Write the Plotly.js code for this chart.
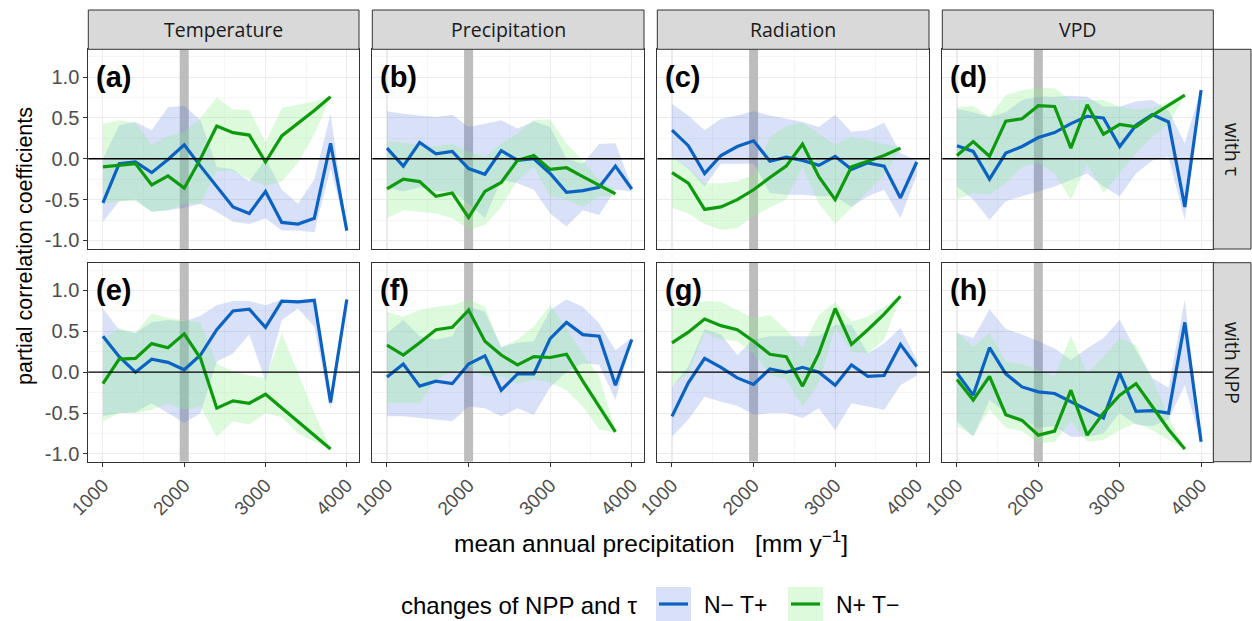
<!DOCTYPE html>
<html>
<head>
<meta charset="utf-8">
<script src="https://cdn.plot.ly/plotly-3.0.1.min.js"></script>
<style>html,body{margin:0;padding:0;background:#fff;}#chart{width:1252px;height:621px;}</style>
</head>
<body>
<div id="chart"></div>
<script>
// ---------- data ----------
const precip = [1000,1200,1400,1600,1800,2000,2200,2400,2600,2800,3000,3200,3400,3600,3800,4000];
const precipGreen = precip.slice(0, 15);
const referencePrecip = 2000;   // grey marker band
const columnLabels = ["Temperature", "Precipitation", "Radiation", "VPD"];
const rowLabels = ["with \u03c4", "with NPP"];
const panelLabels = ["(a)","(b)","(c)","(d)","(e)","(f)","(g)","(h)"];
const seriesNames = ["N\u2212 T+", "N+ T\u2212"];
const yTickVals = [-1, -0.5, 0, 0.5, 1];
const yTickText = ["-1.0", "-0.5", "0.0", "0.5", "1.0"];
const xTickVals = [1000, 2000, 3000, 4000];

// (a) Temperature, with tau
const a_blue   = [-0.54,-0.06,-0.04,-0.17,-0.01,0.17,-0.09,-0.34,-0.59,-0.67,-0.40,-0.78,-0.80,-0.73,0.19,-0.88];
const a_blueHi = [0.00,0.41,0.45,0.35,0.63,0.65,0.47,-0.10,-0.13,-0.28,0.00,-0.38,-0.55,-0.25,0.55,-0.87];
const a_blueLo = [-0.77,-0.52,-0.50,-0.65,-0.63,-0.60,-0.55,-0.65,-0.77,-0.80,-0.73,-0.88,-0.88,-0.90,-0.12,-0.89];
const a_green   = [-0.10,-0.08,-0.06,-0.32,-0.21,-0.36,0.00,0.40,0.32,0.29,-0.04,0.28,0.43,0.59,0.76];
const a_greenHi = [0.43,0.47,0.44,0.17,0.28,0.33,0.50,0.75,0.60,0.60,0.20,0.62,0.66,0.70,0.77];
const a_greenLo = [-0.55,-0.52,-0.52,-0.65,-0.63,-0.55,-0.55,-0.15,-0.15,-0.25,-0.33,-0.28,-0.05,0.30,0.75];
// (b) Precipitation, with tau
const b_blue   = [0.13,-0.09,0.20,0.06,0.09,-0.12,-0.19,0.10,-0.02,0.00,-0.18,-0.41,-0.39,-0.35,-0.09,-0.37];
const b_blueHi = [0.58,0.55,0.53,0.51,0.54,0.39,0.43,0.47,0.37,0.46,0.39,0.00,-0.06,0.18,0.19,-0.34];
const b_blueLo = [-0.35,-0.40,-0.35,-0.40,-0.40,-0.55,-0.73,-0.26,-0.30,-0.38,-0.67,-0.83,-0.63,-0.69,-0.38,-0.40];
const b_green   = [-0.37,-0.25,-0.28,-0.46,-0.42,-0.72,-0.40,-0.29,-0.02,0.04,-0.13,-0.11,-0.22,-0.32,-0.43];
const b_greenHi = [0.21,0.20,0.17,0.15,0.18,0.09,0.02,0.19,0.31,0.47,0.48,0.19,-0.02,-0.26,-0.38];
const b_greenLo = [-0.73,-0.63,-0.65,-0.67,-0.73,-0.87,-0.81,-0.59,-0.26,-0.10,-0.46,-0.50,-0.59,-0.46,-0.46];
// (c) Radiation, with tau
const c_blue   = [0.35,0.16,-0.18,0.04,0.15,0.22,-0.03,0.02,-0.02,-0.08,0.03,-0.13,-0.05,-0.09,-0.48,-0.04];
const c_blueHi = [0.67,0.53,0.35,0.49,0.53,0.58,0.53,0.49,0.45,0.39,0.54,0.33,0.35,0.44,0.07,-0.02];
const c_blueLo = [0.02,-0.12,-0.34,-0.06,-0.06,-0.06,-0.42,-0.44,-0.44,-0.46,-0.46,-0.59,-0.46,-0.38,-0.73,-0.20];
const c_green   = [-0.17,-0.30,-0.62,-0.59,-0.50,-0.38,-0.23,-0.09,0.18,-0.22,-0.50,-0.10,-0.03,0.04,0.13];
const c_greenHi = [0.02,-0.10,-0.30,-0.30,-0.28,-0.20,0.27,0.40,0.44,0.30,0.17,0.27,0.23,0.18,0.14];
const c_greenLo = [-0.60,-0.67,-0.80,-0.87,-0.85,-0.70,-0.60,-0.50,-0.10,-0.55,-0.80,-0.60,-0.40,-0.20,0.12];
// (d) VPD, with tau
const d_blue   = [0.16,0.09,-0.25,0.07,0.15,0.26,0.32,0.43,0.52,0.50,0.15,0.41,0.54,0.45,-0.59,0.84];
const d_blueHi = [0.61,0.57,0.51,0.57,0.72,0.76,0.76,0.77,0.76,0.64,0.64,0.70,0.72,0.59,0.19,0.86];
const d_blueLo = [-0.34,-0.50,-0.75,-0.52,-0.46,-0.40,-0.34,-0.26,-0.18,-0.34,-0.46,-0.18,-0.02,0.02,-0.75,0.82];
const d_green   = [0.04,0.21,0.03,0.46,0.49,0.65,0.64,0.13,0.66,0.30,0.42,0.39,0.53,0.65,0.78];
const d_greenHi = [0.63,0.65,0.51,0.78,0.84,0.87,0.86,0.72,0.72,0.72,0.64,0.60,0.62,0.70,0.79];
const d_greenLo = [-0.50,-0.42,-0.44,-0.30,-0.10,-0.05,-0.18,-0.50,-0.06,-0.42,-0.18,0.07,0.27,0.43,0.77];
// (e) Temperature, with NPP
const e_blue   = [0.44,0.19,0.00,0.16,0.12,0.03,0.21,0.52,0.75,0.77,0.55,0.87,0.86,0.88,-0.37,0.89];
const e_blueHi = [0.78,0.52,0.48,0.61,0.64,0.62,0.69,0.82,0.87,0.87,0.82,0.89,0.88,0.90,-0.34,0.90];
const e_blueLo = [-0.54,-0.50,-0.49,-0.38,-0.50,-0.62,-0.50,0.13,0.23,0.46,-0.11,0.64,0.78,0.56,-0.46,0.88];
const e_green   = [-0.14,0.16,0.17,0.35,0.30,0.47,0.17,-0.44,-0.35,-0.38,-0.27,-0.44,-0.60,-0.77,-0.94];
const e_greenHi = [0.40,0.54,0.48,0.72,0.66,0.64,0.61,0.11,0.01,-0.04,-0.07,0.48,-0.01,-0.50,-0.93];
const e_greenLo = [-0.60,-0.50,-0.50,-0.46,-0.38,-0.46,-0.42,-0.79,-0.60,-0.64,-0.50,-0.55,-0.75,-0.85,-0.95];
// (f) Precipitation, with NPP
const f_blue   = [-0.06,0.10,-0.17,-0.11,-0.14,0.10,0.20,-0.22,-0.02,-0.02,0.41,0.61,0.46,0.44,-0.16,0.40];
const f_blueHi = [0.48,0.64,0.44,0.40,0.44,0.80,0.74,0.31,0.36,0.38,0.76,0.89,0.80,0.60,0.27,0.42];
const f_blueLo = [-0.54,-0.54,-0.56,-0.58,-0.60,-0.42,-0.44,-0.54,-0.44,-0.52,-0.18,0.00,0.11,0.09,-0.34,0.38];
const f_green   = [0.33,0.21,0.36,0.52,0.55,0.76,0.38,0.21,0.09,0.19,0.18,0.22,-0.11,-0.42,-0.73];
const f_greenHi = [0.74,0.68,0.76,0.80,0.82,0.89,0.80,0.31,0.40,0.56,0.82,0.54,0.23,-0.05,-0.72];
const f_greenLo = [-0.38,-0.37,-0.38,-0.09,0.00,0.07,-0.05,-0.05,-0.14,-0.09,-0.13,-0.22,-0.42,-0.70,-0.74];
// (g) Radiation, with NPP
const g_blue   = [-0.54,-0.13,0.17,0.06,-0.07,-0.15,0.04,0.00,0.06,0.00,-0.16,0.09,-0.05,-0.04,0.34,0.07];
const g_blueHi = [-0.18,0.07,0.53,0.46,0.21,0.40,0.44,0.44,0.44,0.44,0.58,0.58,0.23,0.35,0.54,0.15];
const g_blueLo = [-0.79,-0.58,-0.30,-0.36,-0.41,-0.52,-0.50,-0.50,-0.56,-0.44,-0.71,-0.38,-0.42,-0.46,-0.16,-0.04];
const g_green   = [0.36,0.49,0.65,0.57,0.52,0.38,0.22,0.19,-0.17,0.23,0.78,0.34,0.52,0.71,0.93];
const g_greenHi = [0.78,0.82,0.87,0.86,0.76,0.66,0.70,0.52,0.31,0.70,0.86,0.62,0.68,0.80,0.94];
const g_greenLo = [-0.17,-0.01,0.48,0.40,0.38,0.23,-0.03,-0.09,-0.42,-0.13,0.55,0.25,0.23,0.40,0.92];
// (h) VPD, with NPP
const h_blue   = [-0.01,-0.28,0.30,-0.02,-0.18,-0.24,-0.26,-0.36,-0.46,-0.56,-0.01,-0.48,-0.47,-0.50,0.61,-0.85];
const h_blueHi = [0.48,0.42,0.77,0.53,0.46,0.38,0.29,0.15,0.29,0.42,0.64,0.27,-0.07,-0.19,0.89,-0.84];
const h_blueLo = [-0.60,-0.79,-0.34,-0.50,-0.58,-0.68,-0.66,-0.79,-0.79,-0.75,-0.50,-0.64,-0.66,-0.58,-0.16,-0.86];
const h_green   = [-0.09,-0.34,-0.05,-0.52,-0.59,-0.77,-0.72,-0.22,-0.77,-0.50,-0.28,-0.14,-0.42,-0.70,-0.94];
const h_greenHi = [0.49,0.31,0.48,0.13,0.10,0.03,-0.05,0.45,-0.01,0.19,0.42,0.33,-0.09,-0.54,-0.93];
const h_greenLo = [-0.66,-0.77,-0.46,-0.68,-0.72,-0.87,-0.85,-0.60,-0.85,-0.83,-0.71,-0.62,-0.71,-0.83,-0.95];

const panels = [
  [a_blue,a_blueLo,a_blueHi,a_green,a_greenLo,a_greenHi],
  [b_blue,b_blueLo,b_blueHi,b_green,b_greenLo,b_greenHi],
  [c_blue,c_blueLo,c_blueHi,c_green,c_greenLo,c_greenHi],
  [d_blue,d_blueLo,d_blueHi,d_green,d_greenLo,d_greenHi],
  [e_blue,e_blueLo,e_blueHi,e_green,e_greenLo,e_greenHi],
  [f_blue,f_blueLo,f_blueHi,f_green,f_greenLo,f_greenHi],
  [g_blue,g_blueLo,g_blueHi,g_green,g_greenLo,g_greenHi],
  [h_blue,h_blueLo,h_blueHi,h_green,h_greenLo,h_greenHi]
];

// ---------- styling ----------
const W = 1252, H = 621;
const BLUE = "#0a62c2", GREEN = "#0d9a0d";
const BLUE_FILL = "rgba(65,105,225,0.2)", GREEN_FILL = "rgba(144,238,144,0.3)";
const FONT = "Liberation Sans, Arial, sans-serif";
const STRIP_FONT = "Open Sans, Noto Sans, sans-serif";
const colPx = [[88.3,359],[372.3,644],[657.3,929],[942.3,1213.3]];
const rowPx = [[49.3,249],[262.7,461.7]];
const yRanges = [[-1.105, 1.34], [-1.095, 1.34]];
const px = v => v / W, py = v => 1 - v / H;

const traces = [];
const layout = {
  width: W, height: H,
  margin: {l:0, r:0, t:0, b:0},
  paper_bgcolor: "#ffffff", plot_bgcolor: "#ffffff",
  showlegend: false,
  font: {family: FONT, color: "#000", size: 14},
  shapes: [], annotations: []
};

panels.forEach((p, i) => {
  const k = i + 1;
  const xa = "x" + (k === 1 ? "" : k), ya = "y" + (k === 1 ? "" : k);
  const row = Math.floor(i / 4), col = i % 4;
  const [blue, blueLo, blueHi, green, greenLo, greenHi] = p;
  // grey reference band (spans full panel height)
  traces.push({x: [referencePrecip, referencePrecip], y: yRanges[row], xaxis: xa, yaxis: ya, mode: "lines",
    line: {width: 9, color: "#bdbdbd"}, hoverinfo: "skip", cliponaxis: true});
  traces.push({x: precip, y: blueLo, xaxis: xa, yaxis: ya, mode: "lines", line: {width: 0, color: "rgba(0,0,0,0)"}, hoverinfo: "skip"});
  traces.push({x: precip, y: blueHi, xaxis: xa, yaxis: ya, mode: "lines", line: {width: 0, color: "rgba(0,0,0,0)"}, fill: "tonexty", fillcolor: BLUE_FILL, hoverinfo: "skip"});
  traces.push({x: precipGreen, y: greenLo, xaxis: xa, yaxis: ya, mode: "lines", line: {width: 0, color: "rgba(0,0,0,0)"}, hoverinfo: "skip"});
  traces.push({x: precipGreen, y: greenHi, xaxis: xa, yaxis: ya, mode: "lines", line: {width: 0, color: "rgba(0,0,0,0)"}, fill: "tonexty", fillcolor: GREEN_FILL, hoverinfo: "skip"});
  traces.push({x: precip, y: blue, xaxis: xa, yaxis: ya, mode: "lines", name: seriesNames[0], line: {width: 3.2, color: BLUE}});
  traces.push({x: precipGreen, y: green, xaxis: xa, yaxis: ya, mode: "lines", name: seriesNames[1], line: {width: 3.2, color: GREEN}});

  const bottom = row === 1, left = col === 0;
  layout["xaxis" + (k === 1 ? "" : k)] = {
    domain: [px(colPx[col][0]), px(colPx[col][1])],
    anchor: ya, range: [820, 4150],
    tickvals: xTickVals, ticktext: xTickVals.map(String),
    showticklabels: bottom, ticks: bottom ? "outside" : "", ticklen: 4, tickwidth: 1, tickcolor: "#333",
    tickangle: -45, tickfont: {size: 19, color: "#4d4d4d", family: FONT},
    showgrid: true, gridcolor: "#ebebeb", gridwidth: 1.1, zeroline: false,
    minor: {tickvals: [1500, 2500, 3500], showgrid: true, gridcolor: "#f0f0f0", gridwidth: 0.6},
    showline: true, mirror: true, linecolor: "#333333", linewidth: 1
  };
  layout["yaxis" + (k === 1 ? "" : k)] = {
    domain: [py(rowPx[row][1]), py(rowPx[row][0])],
    anchor: xa, range: yRanges[row],
    tickvals: yTickVals, ticktext: yTickText,
    showticklabels: left, ticks: left ? "outside" : "", ticklen: 4, tickwidth: 1, tickcolor: "#333",
    tickfont: {size: 20, color: "#4d4d4d", family: FONT},
    showgrid: true, gridcolor: "#ebebeb", gridwidth: 1.1, zeroline: false,
    minor: {tickvals: [-0.75, -0.25, 0.25, 0.75, 1.25], showgrid: true, gridcolor: "#f0f0f0", gridwidth: 0.6},
    showline: true, mirror: true, linecolor: "#333333", linewidth: 1
  };
  // horizontal zero line
  layout.shapes.push({type: "line", xref: xa + " domain", yref: ya, x0: 0, x1: 1, y0: 0, y1: 0,
    line: {color: "#000000", width: 1.3}, layer: "above"});
  // panel letter
  layout.annotations.push({text: "<b>" + panelLabels[i] + "</b>", xref: xa + " domain", yref: ya,
    x: 0.02, y: 1.0, xanchor: "left", yanchor: "middle", showarrow: false,
    font: {size: 29, family: FONT, color: "#000"}});
});

// strips on top
colPx.forEach((c, j) => {
  layout.shapes.push({type: "rect", xref: "paper", yref: "paper", x0: px(c[0]), x1: px(c[1]), y0: py(49.3), y1: py(10),
    fillcolor: "#d9d9d9", line: {color: "#333333", width: 1}, layer: "above"});
  layout.annotations.push({text: columnLabels[j], xref: "paper", yref: "paper", x: px((c[0] + c[1]) / 2), y: py(30),
    xanchor: "center", yanchor: "middle", showarrow: false, font: {size: 19.5, family: STRIP_FONT, color: "#1a1a1a"}});
});
// strips on right
rowPx.forEach((r, j) => {
  layout.shapes.push({type: "rect", xref: "paper", yref: "paper", x0: px(1213.3), x1: px(1251), y0: py(r[1]), y1: py(r[0]),
    fillcolor: "#d9d9d9", line: {color: "#333333", width: 1}, layer: "above"});
  layout.annotations.push({text: rowLabels[j], xref: "paper", yref: "paper", x: px(1232.5), y: py((r[0] + r[1]) / 2),
    xanchor: "center", yanchor: "middle", textangle: 90, showarrow: false, font: {size: 19.5, family: STRIP_FONT, color: "#1a1a1a"}});
});

// axis titles
layout.annotations.push({text: "partial correlation coefficients", xref: "paper", yref: "paper", x: px(25), y: py(246),
  xanchor: "center", yanchor: "middle", textangle: -90, showarrow: false, font: {size: 21.5, family: FONT, color: "#000"}});
layout.annotations.push({text: "mean annual precipitation   [mm y<sup>\u22121</sup>]", xref: "paper", yref: "paper", x: px(651), y: py(541),
  xanchor: "center", yanchor: "middle", showarrow: false, font: {size: 24.5, family: FONT, color: "#000"}});

// legend (key boxes + labels)
layout.annotations.push({text: "changes of NPP and \u03c4", xref: "paper", yref: "paper", x: px(399), y: py(605),
  xanchor: "left", yanchor: "middle", showarrow: false, font: {size: 24, family: FONT, color: "#000"}});
const keyX = [656, 788], labX = [702, 834];
[[BLUE_FILL, BLUE], [GREEN_FILL, GREEN]].forEach((cc, j) => {
  layout.shapes.push({type: "rect", xref: "paper", yref: "paper", x0: px(keyX[j]), x1: px(keyX[j] + 35), y0: py(621), y1: py(587),
    fillcolor: cc[0], line: {width: 0}, layer: "above"});
  layout.shapes.push({type: "line", xref: "paper", yref: "paper", x0: px(keyX[j] + 3), x1: px(keyX[j] + 32), y0: py(604), y1: py(604),
    line: {color: cc[1], width: 3.2}, layer: "above"});
  layout.annotations.push({text: seriesNames[j], xref: "paper", yref: "paper", x: px(labX[j]), y: py(605),
    xanchor: "left", yanchor: "middle", showarrow: false, font: {size: 23, family: FONT, color: "#000"}});
});

Plotly.newPlot("chart", traces, layout, {staticPlot: true, displayModeBar: false});
</script>
</body>
</html>
